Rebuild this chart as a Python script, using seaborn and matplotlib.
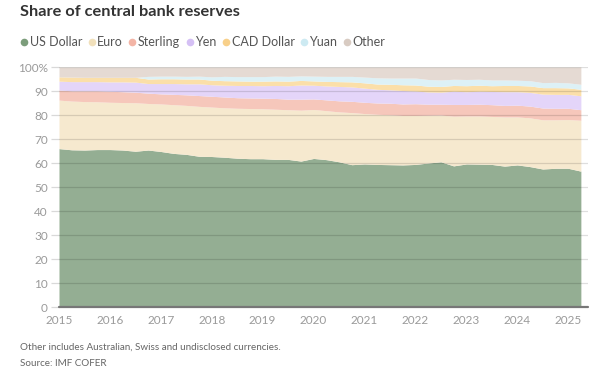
import pandas as pd
import seaborn as sns
import matplotlib.pyplot as plt
from matplotlib.lines import Line2D

# quarterly shares of allocated reserves, 2015Q1 - 2025Q2 (%)
quarters = pd.period_range("2015Q1", "2025Q2", freq="Q")

us_dollar = [66.0, 65.5, 65.4, 65.6, 65.6, 65.4, 64.9, 65.4, 64.8, 64.0, 63.6, 62.8,
             62.7, 62.4, 62.0, 61.8, 61.8, 61.5, 61.5, 60.8, 61.9, 61.4, 60.5, 59.3,
             59.6, 59.4, 59.3, 59.2, 59.4, 60.0, 60.5, 58.8, 59.6, 59.5, 59.4, 58.7,
             59.2, 58.5, 57.5, 57.8, 57.8, 56.6]
euro = [20.2, 20.3, 20.2, 19.9, 19.7, 19.8, 20.2, 19.4, 19.8, 20.3, 20.4, 20.8,
        20.6, 20.6, 20.8, 20.9, 20.8, 20.9, 20.7, 21.2, 20.4, 20.4, 20.8, 21.7,
        21.0, 20.9, 20.8, 20.6, 20.4, 19.9, 19.5, 20.7, 20.0, 20.1, 20.0, 20.5,
        20.0, 20.3, 20.5, 20.2, 20.3, 21.2]
sterling = [4.2, 4.3, 4.5, 4.6, 4.6, 4.5, 4.4, 4.3, 4.2, 4.3, 4.4, 4.5,
            4.5, 4.5, 4.4, 4.4, 4.4, 4.5, 4.4, 4.6, 4.4, 4.5, 4.6, 4.7,
            4.7, 4.7, 4.8, 4.8, 4.9, 4.6, 4.5, 4.9, 4.8, 4.9, 4.9, 4.8,
            4.9, 4.9, 4.9, 4.8, 4.7, 4.4]
yen = [3.7, 3.8, 3.8, 3.8, 3.9, 4.1, 4.2, 4.0, 4.3, 4.5, 4.6, 4.9,
       4.8, 4.9, 5.1, 5.2, 5.2, 5.4, 5.6, 5.9, 5.7, 5.8, 6.0, 6.0,
       5.9, 5.7, 5.6, 5.6, 5.3, 5.1, 5.0, 5.5, 5.3, 5.4, 5.5, 5.7,
       5.6, 5.7, 5.8, 5.8, 5.8, 5.8]
cad_dollar = [1.8, 1.9, 1.8, 1.8, 1.9, 1.9, 2.0, 1.9, 2.0, 2.0, 2.0, 2.0,
              1.9, 1.9, 1.9, 1.8, 1.9, 1.9, 1.9, 1.9, 1.8, 1.9, 2.0, 2.1,
              2.2, 2.2, 2.3, 2.4, 2.5, 2.4, 2.4, 2.4, 2.5, 2.5, 2.4, 2.6,
              2.6, 2.7, 2.7, 2.8, 2.7, 2.7]
yuan = [0.0, 0.0, 0.0, 0.0, 0.0, 0.0, 0.0, 1.1, 1.1, 1.1, 1.1, 1.2,
        1.4, 1.8, 1.8, 1.9, 1.9, 2.0, 2.0, 1.9, 2.0, 2.1, 2.2, 2.3,
        2.4, 2.6, 2.6, 2.8, 2.9, 2.8, 2.7, 2.6, 2.6, 2.5, 2.4, 2.3,
        2.2, 2.2, 2.1, 2.2, 2.1, 2.1]
other = [4.1, 4.2, 4.3, 4.3, 4.3, 4.3, 4.3, 3.9, 3.8, 3.8, 3.9, 3.8,
         4.1, 3.9, 4.0, 4.0, 4.0, 3.8, 3.9, 3.7, 3.8, 3.9, 3.9, 3.9,
         4.2, 4.5, 4.6, 4.6, 4.6, 5.2, 5.4, 5.1, 5.2, 5.1, 5.4, 5.4,
         5.5, 5.7, 6.5, 6.4, 6.6, 7.2]

labels = ["US Dollar", "Euro", "Sterling", "Yen", "CAD Dollar", "Yuan", "Other"]
fills = ["#94ae93", "#f6e9cf", "#f6c7bb", "#e4d5f9", "#fbdfa9", "#ddf1f6", "#e5dad3"]
dots = ["#7c9d7b", "#f1e0bb", "#f3b5a6", "#d5c0f5", "#f8d08a", "#cdeaf2", "#d8cbc2"]

df = pd.DataFrame({
    "US Dollar": us_dollar, "Euro": euro, "Sterling": sterling, "Yen": yen,
    "CAD Dollar": cad_dollar, "Yuan": yuan, "Other": other,
}, index=quarters.year + (quarters.quarter - 1) / 4)

sns.set_theme(style="white")
plt.rcParams["font.family"] = ["Lato", "DejaVu Sans"]

fig = plt.figure(figsize=(6.05, 3.86), dpi=100)
ax = fig.add_axes([59 / 605, 1 - 307 / 386, 529 / 605, 240 / 386])

palette = sns.color_palette(fills)
ax.stackplot(df.index, *[df[c] for c in labels], colors=palette, linewidth=0, zorder=1)

ax.set_xlim(2015, 2025.39)
ax.set_ylim(0, 100)
ax.set_xticks(range(2015, 2026))
ax.set_xticklabels([str(y) for y in range(2015, 2026)])
ax.set_yticks(range(0, 101, 10))
ax.set_yticklabels(["0"] + [str(v) for v in range(10, 100, 10)] + ["100%"])

for v in range(10, 101, 10):
    ax.axhline(v, color="#000000", alpha=0.13, lw=0.9, zorder=3)
ax.axhline(0, color="#777777", lw=1.6, zorder=4, clip_on=False)

for s in ax.spines.values():
    s.set_visible(False)
ax.tick_params(axis="y", length=6, width=0.9, color="#d9d9d9", pad=2,
               labelsize=8.5, labelcolor="#9a9a9a", left=True)
ax.tick_params(axis="x", length=0, pad=6, labelsize=8.5, labelcolor="#9a9a9a")
ax.grid(False)

fig.text(20 / 605, 1 - 12 / 386, "Share of central bank reserves", fontsize=11.8,
         fontweight="bold", color="#333333", va="center", ha="left")

handles = [Line2D([], [], marker="o", ls="", markersize=5.5, markeredgewidth=0,
                  markerfacecolor=c) for c in dots]
fig.legend(handles, labels, loc="center left", bbox_to_anchor=(16 / 605, 1 - 42 / 386),
           ncol=7, frameon=False, fontsize=9, handlelength=0.5, handletextpad=0.2,
           columnspacing=0.5, labelcolor="#555555", borderaxespad=0)

fig.text(20 / 605, 1 - 347 / 386, "Other includes Australian, Swiss and undisclosed currencies.",
         fontsize=7.1, color="#666666", va="center", ha="left")
fig.text(20 / 605, 1 - 363 / 386, "Source: IMF COFER", fontsize=7.1, color="#666666",
         va="center", ha="left")

fig.savefig("out.png", dpi=100)
